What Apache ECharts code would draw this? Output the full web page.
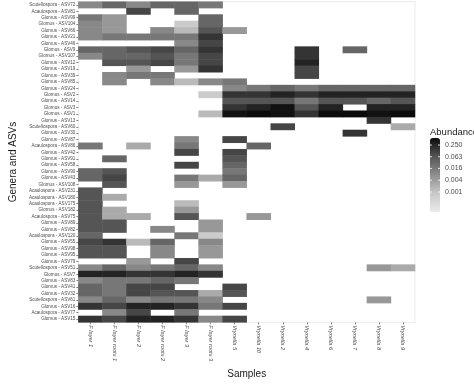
<!DOCTYPE html>
<html><head><meta charset="utf-8">
<script src="https://cdn.jsdelivr.net/npm/echarts@6/dist/echarts.min.js"></script>
<style>html,body{margin:0;padding:0;background:#fff}#c{width:474px;height:384px}</style>
</head><body><div id="c"></div>
<script>
var samples = ["F layer 1","F layer roots 1","F layer 2","F layer roots 2","F layer 3","F layer roots 3","Vrynella 5","Vrynella 10","Vrynella 2","Vrynella 4","Vrynella 6","Vrynella 7","Vrynella 8","Vrynella 9"];
var asvs = ["Scutellospora - ASV72","Acaulospora - ASV81","Glomus - ASV99","Glomus - ASV104","Glomus - ASV66","Glomus - ASV21","Glomus - ASV46","Glomus - ASV9","Glomus - ASV107","Glomus - ASV12",
"Glomus - ASV19","Glomus - ASV39","Glomus - ASV85","Glomus - ASV24","Glomus - ASV2","Glomus - ASV14","Glomus - ASV3","Glomus - ASV1","Glomus - ASV13","Scutellospora - ASV60",
"Glomus - ASV30","Glomus - ASV87","Acaulospora - ASV86","Glomus - ASV42","Glomus - ASV91","Glomus - ASV58","Glomus - ASV90","Glomus - ASV43","Glomus - ASV108","Acaulospora - ASV231",
"Acaulospora - ASV180","Acaulospora - ASV175","Glomus - ASV182","Acaulospora - ASV75","Glomus - ASV89","Glomus - ASV82","Acaulospora - ASV120","Glomus - ASV55","Glomus - ASV98","Glomus - ASV95",
"Glomus - ASV79","Scutellospora - ASV51","Glomus - ASV7","Glomus - ASV83","Glomus - ASV41","Glomus - ASV32","Scutellospora - ASV61","Glomus - ASV16","Acaulospora - ASV77","Glomus - ASV15"];

// abundance per sample, one value per ASV (0 = absent)
var fLayer1 = [0.0093,0,0.018,0.0093,0.0093,0.0093,0,0.034,0.0093,0,
 0,0,0,0,0,0,0,0,0,0,
 0,0,0.018,0,0,0,0.034,0.034,0,0.065,
 0.065,0.065,0.065,0.065,0.065,0.065,0.034,0.1,0.065,0.065,
 0,0.0093,0.28,0.0093,0.034,0.034,0.0093,0.17,0,0.17];
var fLayerRoots1 = [0.034,0,0.005,0.005,0.005,0.018,0,0.034,0.034,0.065,
 0,0.0093,0.0093,0,0,0,0,0,0,0,
 0,0,0,0,0.034,0,0.065,0.1,0.065,0,
 0.0026,0,0.0026,0.0026,0.065,0.065,0,0.17,0.065,0.065,
 0,0.034,0.28,0.018,0.018,0.018,0.034,0.1,0.0093,0.1];
var fLayer2 = [0.0093,0.1,0,0,0,0.018,0,0.065,0.034,0.065,
 0.005,0.018,0,0,0,0,0,0,0,0,
 0,0,0.0026,0,0,0,0,0,0,0,
 0,0,0,0.0026,0,0,0,0.0014,0,0,
 0.005,0.0093,0.17,0.018,0.1,0.1,0.0093,0.28,0.1,0.28];
var fLayerRoots2 = [0.034,0,0,0,0.0093,0.018,0,0.1,0.065,0.1,
 0,0.018,0.0093,0,0,0,0,0,0,0,
 0,0,0,0,0,0,0,0,0,0,
 0,0,0,0,0,0.0093,0,0.034,0.0093,0.0093,
 0,0.018,0.17,0.034,0.1,0.065,0.018,0.28,0,0.28];
var fLayer3 = [0.034,0.034,0,0.0007,0.0014,0.018,0.0093,0.034,0.018,0.018,
 0.005,0,0.0014,0,0,0,0,0,0,0,
 0,0.0093,0.018,0.1,0,0.1,0,0.018,0.005,0,
 0,0.0014,0.005,0.065,0,0,0.018,0,0,0,
 0.1,0.034,0.28,0.018,0,0.065,0.018,0.17,0.018,0.17];
var fLayerRoots3 = [0.018,0,0.034,0.034,0.065,0.17,0.1,0.17,0.1,0.1,
 0.17,0,0.0093,0,0.0007,0,0,0.0014,0,0,
 0,0,0,0,0,0,0,0.0026,0,0,
 0,0,0,0,0.005,0.005,0.0007,0.0093,0.005,0.005,
 0,0.0093,0.17,0,0,0.0026,0.0093,0.018,0,0.0093];
var vrynella5 = [0,0,0,0,0.005,0,0,0,0,0,
 0,0,0.018,0.0093,0.17,0.065,0.17,0.45,0,0,
 0,0.1,0,0.1,0.065,0.034,0.018,0.034,0.005,0,
 0,0,0,0,0,0,0,0,0,0,
 0,0,0,0,0.1,0.065,0,0.1,0,0.1];
var vrynella10 = [0,0,0,0,0,0,0,0,0,0,
 0,0,0,0.018,0.17,0.065,0.28,0.55,0,0,
 0,0,0.034,0,0,0,0,0,0,0,
 0,0,0,0.005,0,0,0,0,0,0,
 0,0,0,0,0,0,0,0,0,0];
var vrynella2 = [0,0,0,0,0,0,0,0,0,0,
 0,0,0,0.034,0.28,0.065,0.45,0.45,0,0.1,
 0,0,0,0,0,0,0,0,0,0,
 0,0,0,0,0,0,0,0,0,0,
 0,0,0,0,0,0,0,0,0,0];
var vrynella4 = [0,0,0,0,0,0,0,0.17,0.17,0.28,
 0.1,0.1,0,0.018,0.17,0.018,0.065,0.17,0,0,
 0,0,0,0,0,0,0,0,0,0,
 0,0,0,0,0,0,0,0,0,0,
 0,0,0,0,0,0,0,0,0,0];
var vrynella6 = [0,0,0,0,0,0,0,0,0,0,
 0,0,0,0.034,0.28,0.065,0.28,0.55,0,0,
 0,0,0,0,0,0,0,0,0,0,
 0,0,0,0,0,0,0,0,0,0,
 0,0,0,0,0,0,0,0,0,0];
var vrynella7 = [0,0,0,0,0,0,0,0.034,0,0,
 0,0,0,0.034,0.28,0.065,0,0.55,0,0,
 0.17,0,0,0,0,0,0,0,0,0,
 0,0,0,0,0,0,0,0,0,0,
 0,0,0,0,0,0,0,0,0,0];
var vrynella8 = [0,0,0,0,0,0,0,0,0,0,
 0,0,0,0.034,0.28,0.034,0.28,0.45,0.17,0,
 0,0,0,0,0,0,0,0,0,0,
 0,0,0,0,0,0,0,0,0,0,
 0,0.005,0,0,0,0,0.005,0,0,0];
var vrynella9 = [0,0,0,0,0,0,0,0,0,0,
 0,0,0,0.034,0.28,0.065,0.28,0.55,0,0.0026,
 0,0,0,0,0,0,0,0,0,0,
 0,0,0,0,0,0,0,0,0,0,
 0,0.0026,0,0,0,0,0,0,0,0];

var legendTicks = [0.25, 0.063, 0.016, 0.004, 0.001];
var legendTickLabels = ["0.250", "0.063", "0.016", "0.004", "0.001"];

var columns = [fLayer1, fLayerRoots1, fLayer2, fLayerRoots2, fLayer3, fLayerRoots3,
  vrynella5, vrynella10, vrynella2, vrynella4, vrynella6, vrynella7, vrynella8, vrynella9];

var data = [];
columns.forEach(function (col, xi) {
  col.forEach(function (v, yi) {
    if (v > 0) data.push([xi, yi, Math.log10(v)]);
  });
});

var LMIN = -4.02, LMAX = -0.244;
var barLeft = 430, barTop = 138, barW = 10, barH = 74;
var FONT = "'Liberation Sans', Arial, sans-serif";

var graphics = [{
  type: 'text', left: 430, top: 127,
  style: { text: 'Abundance', font: '9.5px ' + FONT, fill: '#1a1a1a' }
}];
legendTicks.forEach(function (t, i) {
  var y = barTop + barH * (1 - (Math.log10(t) - LMIN) / (LMAX - LMIN));
  graphics.push({ type: 'text', x: 445, y: y,
    style: { text: legendTickLabels[i], font: '7px ' + FONT, fill: '#4d4d4d', verticalAlign: 'middle' }, z: 10 });
  graphics.push({ type: 'line', shape: { x1: barLeft, y1: y, x2: barLeft + 2, y2: y }, style: { stroke: '#fff', lineWidth: 0.8 }, z: 10 });
  graphics.push({ type: 'line', shape: { x1: barLeft + barW - 2, y1: y, x2: barLeft + barW, y2: y }, style: { stroke: '#fff', lineWidth: 0.8 }, z: 10 });
});

var chart = echarts.init(document.getElementById('c'), null, { renderer: 'canvas' });
chart.setOption({
  animation: false,
  backgroundColor: '#fff',
  textStyle: { fontFamily: FONT },
  grid: { left: 65, top: 1.7, width: 350, height: 326.6, show: true, borderColor: '#ebebeb', borderWidth: 1, backgroundColor: 'transparent' },
  xAxis: {
    type: 'category', data: samples,
    axisLine: { show: false },
    axisTick: { show: true, length: 2, alignWithLabel: true, lineStyle: { color: '#333', width: 0.6 } },
    axisLabel: { rotate: -90, fontSize: 5.6, fontStyle: 'italic', color: '#4d4d4d', margin: 3, interval: 0 },
    splitLine: { show: false },
    name: 'Samples', nameLocation: 'middle', nameGap: 44,
    nameTextStyle: { fontSize: 10, color: '#1a1a1a' }
  },
  yAxis: {
    type: 'category', data: asvs, inverse: true,
    axisLine: { show: false },
    axisTick: { show: true, length: 2, alignWithLabel: true, lineStyle: { color: '#333', width: 0.6 } },
    axisLabel: { fontSize: 4.6, color: '#4d4d4d', margin: 3, interval: 0 },
    splitLine: { show: false },
    name: 'Genera and ASVs', nameLocation: 'middle', nameGap: 60, nameRotate: 90,
    nameTextStyle: { fontSize: 10, color: '#1a1a1a' }
  },
  visualMap: {
    type: 'continuous', min: LMIN, max: LMAX, dimension: 2,
    show: true, calculable: false, hoverLink: false,
    orient: 'vertical', left: barLeft, top: barTop, itemWidth: barW, itemHeight: barH, padding: 0,
    inRange: { color: ['#ebebeb', '#c8c8c8', '#8e8e8e', '#555555', '#0a0a0a'] }
  },
  series: [{
    type: 'heatmap', data: data,
    itemStyle: { borderWidth: 0 },
    emphasis: { disabled: true }
  }],
  graphic: graphics
});
</script>
</body></html>
